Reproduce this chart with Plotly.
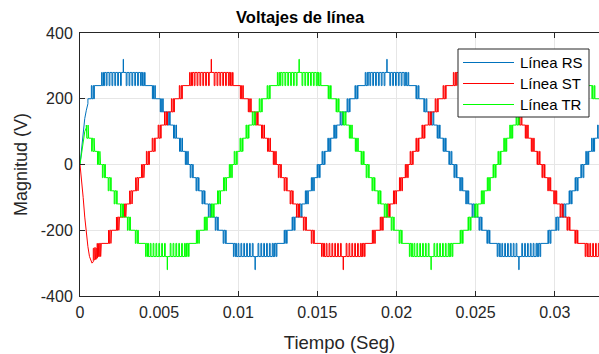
import plotly.graph_objects as go

# ---------------- data ----------------
series_names = ["Línea RS", "Línea ST", "Línea TR"]
series_colors = ["#0072BD", "#FF0000", "#00FF00"]

# times (s) of the extremes of each line voltage and their sign
rs_peak_t = [0.00274, 0.01107, 0.01940, 0.02774, 0.03607]
rs_peak_sign = [1, -1, 1, -1, 1]
st_peak_t = [-0.00003, 0.00830, 0.01664, 0.02497, 0.03330]
st_peak_sign = [-1, 1, -1, 1, -1]
tr_peak_t = [-0.00281, 0.00552, 0.01385, 0.02219, 0.03052]
tr_peak_sign = [1, -1, 1, -1, 1]

# staircase of one half-wave: levels (V) and edge offsets from the extreme (s)
step_levels = [280, 240, 200, 160, 120, 80, 40, 0]
step_edge_offsets = [0.001255, 0.001903, 0.002403, 0.002840, 0.003240, 0.003618, 0.003985]
quarter_period = 0.0041667

# switching chatter seen around every step edge (offsets from the edge, s)
chatter_offsets = [-0.00012, -0.00008, 0.0, 0.00004, 0.00007]
# dips of the flat top down to the next level, and the spike at the extreme
top_dip_offsets = [-0.00108, -0.00090, -0.00072, -0.00054, -0.00036, -0.00018,
                   0.00018, 0.00036, 0.00054, 0.00072, 0.00090, 0.00108]
top_dip_width = 0.00005
top_dip_level = 240
spike_level = 320
spike_width = 0.00002

# start-up transient (s, V)
rs_start_t = [0.0, 0.0001, 0.0002, 0.0003, 0.0004, 0.0005]
rs_start_v = [0, 50, 100, 140, 165, 185]
st_start_t = [0.0, 0.0001, 0.0002, 0.0003, 0.0004, 0.0005, 0.0006, 0.0007, 0.00076,
              0.00084, 0.00084, 0.00089, 0.00089, 0.00095, 0.00095, 0.00098, 0.00098,
              0.00103, 0.00103, 0.00109, 0.00109]
st_start_v = [0, -45, -100, -160, -210, -250, -280, -296, -300,
              -296, -255, -255, -290, -290, -252, -252, -288, -288, -255, -255, -285]
tr_start_t = [0.0, 0.0001, 0.0002, 0.0003, 0.0004]
tr_start_v = [0, 35, 75, 100, 112]

t_end = 0.0328

x_tick_vals = [0, 0.005, 0.01, 0.015, 0.02, 0.025, 0.03]
x_tick_text = ["0", "0.005", "0.01", "0.015", "0.02", "0.025", "0.03"]
y_tick_vals = [-400, -200, 0, 200, 400]
y_tick_text = ["-400", "-200", "0", "200", "400"]


# ---------------- build the stepped waveforms ----------------
def half_wave_events(pk, sg):
    ev = [(pk - quarter_period, 0)]
    n = len(step_edge_offsets)
    for i in range(n - 1, -1, -1):          # rising side
        e = pk - step_edge_offsets[i]
        new, old = step_levels[i], step_levels[i + 1]
        for j, off in enumerate(chatter_offsets):
            ev.append((e + off, new if j % 2 == 0 else old))
    for d in top_dip_offsets:
        ev.append((pk + d, top_dip_level))
        ev.append((pk + d + top_dip_width, step_levels[0]))
    ev.append((pk - spike_width / 2, spike_level))
    ev.append((pk + spike_width / 2, step_levels[0]))
    for i in range(n):                        # falling side (mirrored chatter)
        e = pk + step_edge_offsets[i]
        new, old = step_levels[i + 1], step_levels[i]
        for j, off in enumerate(reversed(chatter_offsets)):
            ev.append((e - off, new if j % 2 == 0 else old))
    return [(t, sg * v) for t, v in ev]


def build(peaks, signs, st_t, st_v):
    events = []
    for pk, sg in zip(peaks, signs):
        events += half_wave_events(pk, sg)
    events.sort(key=lambda p: p[0])
    t_sw = st_t[-1]
    prev = 0
    for t, v in events:
        if t <= t_sw:
            prev = v
    xs, ys = list(st_t), list(st_v)
    xs.append(t_sw)
    ys.append(prev)
    for t, v in events:
        if t_sw < t <= t_end:
            xs += [t, t]
            ys += [prev, v]
            prev = v
    xs.append(t_end)
    ys.append(prev)
    return xs, ys


rs_x, rs_y = build(rs_peak_t, rs_peak_sign, rs_start_t, rs_start_v)
st_x, st_y = build(st_peak_t, st_peak_sign, st_start_t, st_start_v)
tr_x, tr_y = build(tr_peak_t, tr_peak_sign, tr_start_t, tr_start_v)

fig = go.Figure()
for (xx, yy), name, col in zip([(rs_x, rs_y), (st_x, st_y), (tr_x, tr_y)],
                               series_names, series_colors):
    fig.add_trace(go.Scatter(x=xx, y=yy, mode="lines", name=name,
                             line=dict(color=col, width=1), showlegend=False))

# ---------------- layout ----------------
W, H = 599, 354
L, R, T, B = 80, 0, 33, 58
pw, ph = W - L - R, H - T - B


def px_x(p):
    return (p - L) / pw


def px_y(p):
    return (H - B - p) / ph


font_family = "Liberation Sans, Arial, Helvetica, sans-serif"
axis_col = "#262626"
grid_col = "#E6E6E6"

fig.update_layout(
    width=W, height=H,
    margin=dict(l=L, r=R, t=T, b=B),
    paper_bgcolor="white", plot_bgcolor="white",
    font=dict(family=font_family, color=axis_col, size=16),
    title=dict(text="<b>Voltajes de línea</b>", x=px_x(340), xanchor="center",
               y=1 - 17 / H, yanchor="middle", font=dict(size=16.5, color="#000000")),
    showlegend=False,
)
fig.update_xaxes(
    range=[0, t_end], tickvals=x_tick_vals, ticktext=x_tick_text,
    showline=True, linecolor=axis_col, linewidth=1, mirror="ticks",
    ticks="inside", ticklen=5, tickcolor=axis_col,
    showgrid=True, gridcolor=grid_col, gridwidth=1, zeroline=False,
    tickfont=dict(size=16, color=axis_col), ticklabelstandoff=2,
    title=dict(text="Tiempo (Seg)", font=dict(size=18.5, color=axis_col), standoff=15),
)
fig.update_yaxes(
    range=[-400, 400], tickvals=y_tick_vals, ticktext=y_tick_text,
    showline=True, linecolor=axis_col, linewidth=1, mirror=False,
    ticks="inside", ticklen=5, tickcolor=axis_col,
    showgrid=True, gridcolor=grid_col, gridwidth=1, zeroline=False,
    tickfont=dict(size=16, color=axis_col), ticklabelstandoff=3,
    title=dict(text="Magnitud (V)", font=dict(size=18, color=axis_col), standoff=8),
)

# ---------------- legend (drawn as a MATLAB-style box) ----------------
leg_x0, leg_x1, leg_y0, leg_y1 = 458, 589, 49, 117
leg_rows = [62.5, 83.5, 104.5]
leg_line_x = [463, 514]
leg_text_x = 518
shapes = [dict(type="rect", xref="paper", yref="paper", layer="above",
               x0=px_x(leg_x0), x1=px_x(leg_x1), y0=px_y(leg_y1), y1=px_y(leg_y0),
               line=dict(color=axis_col, width=1), fillcolor="white")]
annotations = []
for name, col, ry in zip(series_names, series_colors, leg_rows):
    shapes.append(dict(type="line", xref="paper", yref="paper", layer="above",
                       x0=px_x(leg_line_x[0]), x1=px_x(leg_line_x[1]),
                       y0=px_y(ry), y1=px_y(ry), line=dict(color=col, width=1)))
    annotations.append(dict(text=name, xref="paper", yref="paper", showarrow=False,
                            x=px_x(leg_text_x), y=px_y(ry), xanchor="left",
                            yanchor="middle", font=dict(size=15, color="#000000")))
fig.update_layout(shapes=shapes, annotations=annotations)

fig.write_html("out.html")
